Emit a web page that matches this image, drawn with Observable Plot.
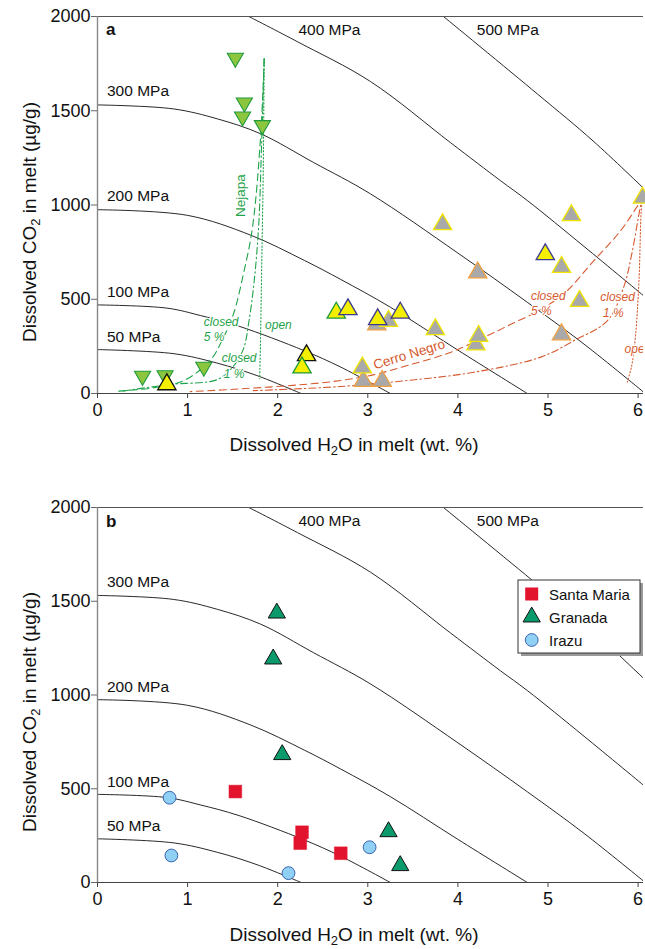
<!DOCTYPE html>
<html><head><meta charset="utf-8">
<script src="https://cdn.jsdelivr.net/npm/d3@7"></script>
<script src="https://cdn.jsdelivr.net/npm/@observablehq/plot@0.6"></script>
<style>
body{margin:0;background:#fff;font-family:"Liberation Sans",Arial,Helvetica,sans-serif;}
#wrap{position:relative;width:645px;height:949px;overflow:hidden;}
#wrap svg{display:block;}
</style></head><body><div id="wrap"></div>
<script>
// ---------- axes ----------
const xTicks = [0, 1, 2, 3, 4, 5, 6];
const yTicks = [0, 500, 1000, 1500, 2000];

// ---------- isobars (H2O wt.%, CO2 µg/g) ----------
const iso50  = [[0,233],[0.85,211],[1.33,161],[1.77,95],[2.26,0]];
const iso100 = [[0,470],[0.77,453],[1.14,414],[1.57,357],[2.29,228],[2.70,140],[3.25,0]];
const iso200 = [[0,975],[1.0,945],[1.7,840],[2.3,705],[2.7,605],[3.25,458],[4.0,230],[4.77,0]];
const iso300 = [[0,1531],[0.84,1510],[1.33,1457],[1.81,1378],[2.4,1225],[3.03,1059],[4.0,745],[4.77,484],[5.4,262],[6.08,0]];
const iso400 = [[1.68,2000],[2.22,1866],[3.03,1655],[3.92,1330],[4.47,1130],[4.77,1024],[5.4,780],[6.08,511]];
const iso500 = [[3.84,2000],[4.88,1590],[5.5,1340],[6.08,1080]];
const isoNames = ["50 MPa","100 MPa","200 MPa","300 MPa","400 MPa","500 MPa"];
const isoLabelX = [0.105,0.105,0.105,0.105,2.23,4.21];
const isoLabelY = [299,537,1045,1604,1929,1929];

// ---------- degassing paths ----------
const nejOpen    = [[1.85,1776],[1.84,1200],[1.82,600],[1.81,300],[1.80,78]];
const nejClosed1 = [[1.85,1776],[1.82,1300],[1.79,900],[1.74,600],[1.68,380],[1.62,237],[1.5,140],[1.33,74],[0.81,48],[0.26,12]];
const nejClosed5 = [[1.85,1776],[1.81,1360],[1.72,880],[1.62,635],[1.51,423],[1.40,299],[1.25,175],[0.96,69],[0.66,33],[0.22,12]];
const cnOpen     = [[6.06,1050],[6.04,1000],[6.01,600],[5.97,299],[5.93,150],[5.88,60]];
const cnClosed1  = [[6.06,1050],[6.03,1000],[5.93,741],[5.84,564],[5.66,387],[5.29,281],[4.92,193],[4.18,113],[3.44,69],[2.70,37],[1.73,15]];
const cnClosed5  = [[6.06,1050],[6.0,1000],[5.8,860],[5.5,700],[5.2,540],[4.9,440],[4.6,370],[4.3,300],[3.9,215],[3.45,150],[3.07,100],[2.70,69],[2.29,48],[1.6,25],[1.03,10]];

const nejText = ["closed","5 %","closed","1 %","open"];
const nejTextX = [1.18,1.18,1.38,1.40,1.86];
const nejTextY = [378,299,187,104,361];
const cnText = ["closed","5 %","closed","1 %","open"];
const cnTextX = [4.81,4.81,5.58,5.61,5.85];
const cnTextY = [515,435,511,428,237];
const nameText = ["Nejapa","Cerro Negro"];
const nameX = [1.59,3.46];
const nameY = [1050,207];
const nameRot = [-90,-17];

// ---------- panel a: melt inclusions ----------
const nejapaMI     = [[1.53,1780],[1.63,1543],[1.61,1469],[1.83,1423],[0.50,93],[0.75,96],[1.18,141]];
const greyOrange   = [[3.10,366],[2.95,66],[3.16,66],[4.22,641],[5.15,313]];
const greyYellow   = [[3.23,384],[2.94,137],[3.75,340],[3.83,897],[4.20,260],[4.23,305],[5.26,945],[5.15,671],[5.35,490],[6.05,1038]];
const yellowBlack  = [[0.77,48],[2.32,202]];
const yellowGreen  = [[2.27,137],[2.65,428]];
const yellowBlue   = [[2.78,446],[3.11,393],[3.36,428],[4.97,738]];

// ---------- panel b ----------
const santaMaria = [[1.53,485],[2.27,268],[2.25,210],[2.70,156]];
const granada    = [[1.99,1437],[1.95,1192],[2.05,682],[3.23,271],[3.36,90]];
const irazu      = [[0.80,452],[0.82,144],[2.12,50],[3.02,188]];
const legendNames = ["Santa Maria","Granada","Irazu"];

// ---------- helpers ----------
const FONT = '"Liberation Sans", Arial, Helvetica, sans-serif';
const GREEN = "#1fa34a", RED = "#d65a2e";
const rows = (pts, k) => pts.map(([h, c]) => ({h, c, k}));
const isoRows = [iso50, iso100, iso200, iso300, iso400, iso500].flatMap((p, i) => rows(p, isoNames[i]));
const isoLabelRows = isoNames.map((t, i) => ({t, x: isoLabelX[i], y: isoLabelY[i]}));
const textRows = (T, X, Y) => T.map((t, i) => ({t, x: X[i], y: Y[i]}));
const triDown = {draw(ctx, size) {
  const y = -Math.sqrt(size / (Math.sqrt(3) * 3));
  ctx.moveTo(0, -y * 2); ctx.lineTo(-Math.sqrt(3) * y, y); ctx.lineTo(Math.sqrt(3) * y, y); ctx.closePath();
}};
const fmt = (d) => String(d);

function common() {
  return [
    Plot.line(isoRows, {x: "h", y: "c", z: "k", curve: "catmull-rom", stroke: "#111", strokeWidth: 0.9, clip: true}),
    Plot.text(isoLabelRows, {x: "x", y: "y", text: "t", textAnchor: "start", fontSize: 15.5, fill: "#111", fontFamily: FONT}),
    Plot.ruleY([2000], {stroke: "#555"}),
    Plot.ruleX([0], {stroke: "#888", strokeWidth: 1.4}),
    Plot.ruleY([0], {stroke: "#444", strokeWidth: 1.2}),
    Plot.axisX({ticks: xTicks, tickFormat: fmt, tickSize: 5, tickPadding: 5, fontSize: 18, label: null, stroke: "#444", fontFamily: FONT}),
    Plot.axisY({ticks: yTicks, tickFormat: fmt, tickSize: 6, tickPadding: 1, fontSize: 18, label: null, stroke: "#666", fontFamily: FONT})
  ];
}
function pathLine(pts, stroke, dash) {
  return Plot.line(rows(pts, "p"), {x: "h", y: "c", curve: "catmull-rom", stroke, strokeWidth: 1.1, strokeDasharray: dash, clip: true});
}
function tri(pts, fill, stroke) {
  return Plot.dot(rows(pts, "t"), {x: "h", y: "c", symbol: "triangle", r: 6.8, fill, stroke, strokeWidth: 1.3});
}

function decorate(svg, letter, yLabelCenter, xBaseline) {
  const s = d3.select(svg);
  s.append("text").attr("x", 106).attr("y", letter === "a" ? 35 : 57).attr("text-anchor", "start")
    .attr("font-family", FONT).attr("font-weight", "bold").attr("font-size", 17).attr("fill", "#111").text(letter);
  const yl = s.append("text").attr("transform", `translate(36,${yLabelCenter}) rotate(-90)`)
    .attr("text-anchor", "middle").attr("font-family", FONT).attr("font-size", 19).attr("fill", "#111");
  yl.append("tspan").text("Dissolved CO");
  yl.append("tspan").attr("dy", 4).attr("font-size", 13).text("2");
  yl.append("tspan").attr("dy", -4).text(" in melt (\u00b5g/g)");
  const xl = s.append("text").attr("x", 354).attr("y", xBaseline)
    .attr("text-anchor", "middle").attr("font-family", FONT).attr("font-size", 19).attr("fill", "#111");
  xl.append("tspan").text("Dissolved H");
  xl.append("tspan").attr("dy", 3.5).attr("font-size", 13).text("2");
  xl.append("tspan").attr("dy", -3.5).text("O in melt (wt. %)");
}

const xScale = {domain: [0, 6.06]};
const yScale = {domain: [0, 2000]};

// ---------- panel a ----------
const plotA = Plot.plot({
  width: 645, height: 470, marginLeft: 97, marginRight: 2, marginTop: 16, marginBottom: 77,
  x: xScale, y: yScale,
  style: {background: "white", color: "#111", fontFamily: FONT, overflow: "visible"},
  marks: [
    ...common(),
    pathLine(nejOpen, GREEN, "1.2,2.2"),
    pathLine(nejClosed1, GREEN, "7,3,1.5,3"),
    pathLine(nejClosed5, GREEN, "7,4.5"),
    pathLine(cnOpen, RED, "1.2,2.2"),
    pathLine(cnClosed1, RED, "7,3,1.5,3"),
    pathLine(cnClosed5, RED, "7,4.5"),
    Plot.text(textRows(nejText, nejTextX, nejTextY), {x: "x", y: "y", text: "t", textAnchor: "start", fontSize: 12, fontStyle: "italic", fill: GREEN, stroke: "white", strokeWidth: 2.5, fontFamily: FONT}),
    Plot.text(textRows(cnText, cnTextX, cnTextY), {x: "x", y: "y", text: "t", textAnchor: "start", fontSize: 12, fontStyle: "italic", fill: RED, stroke: "white", strokeWidth: 2.5, fontFamily: FONT, clip: true}),
    Plot.text(nameText.map((t, i) => ({t, x: nameX[i], y: nameY[i], r: nameRot[i], c: i ? RED : GREEN})),
      {x: "x", y: "y", text: "t", rotate: "r", fill: (d) => d.c, fontSize: 13.5, fontFamily: FONT, stroke: "white", strokeWidth: 2}),
    Plot.dot(rows(nejapaMI, "n"), {x: "h", y: "c", symbol: triDown, r: 6.0, fill: "#8cc63f", stroke: "#1f9a3c", strokeWidth: 1.1}),
    tri(greyOrange, "#a9a9a9", "#f0a040"),
    tri(greyYellow, "#a9a9a9", "#f0e400"),
    tri(yellowBlack, "#f4ef00", "#111"),
    tri(yellowGreen, "#f4ef00", "#1a9a3a"),
    tri(yellowBlue, "#f4ef00", "#3a3a90")
  ]
});

// ---------- panel b ----------
const plotB = Plot.plot({
  width: 645, height: 479, marginLeft: 97, marginRight: 2, marginTop: 37, marginBottom: 67,
  x: xScale, y: yScale,
  style: {background: "white", color: "#111", fontFamily: FONT, overflow: "visible"},
  marks: [
    ...common(),
    Plot.dot(rows(santaMaria, "s"), {x: "h", y: "c", symbol: "square", r: 7.2, fill: "#e2142d", stroke: "#e2142d", strokeWidth: 0.5}),
    Plot.dot(rows(granada, "g"), {x: "h", y: "c", symbol: "triangle", r: 6.4, fill: "#0b9a6c", stroke: "#111", strokeWidth: 1}),
    Plot.dot(rows(irazu, "i"), {x: "h", y: "c", symbol: "circle", r: 6.4, fill: "#8fd0f4", stroke: "#3a66b0", strokeWidth: 1})
  ]
});

const wrap = document.getElementById("wrap");
wrap.appendChild(plotA);
wrap.appendChild(plotB);
decorate(plotA, "a", 222, 451);
decorate(plotB, "b", 242, 471);

// legend (panel b)
const sb = d3.select(plotB);
const lg = sb.append("g").attr("transform", "translate(518,110)");
lg.append("rect").attr("x", 3).attr("y", 3).attr("width", 122).attr("height", 73).attr("fill", "#999");
lg.append("rect").attr("width", 122).attr("height", 73).attr("fill", "white").attr("stroke", "#333").attr("stroke-width", 1);
const sw = [
  (g) => g.append("rect").attr("x", -6.5).attr("y", -6.5).attr("width", 13).attr("height", 13).attr("fill", "#e2142d"),
  (g) => g.append("path").attr("d", d3.symbol(d3.symbolTriangle, 6.4 * 6.4 * Math.PI)()).attr("fill", "#0b9a6c").attr("stroke", "#111"),
  (g) => g.append("circle").attr("r", 6.4).attr("fill", "#8fd0f4").attr("stroke", "#3a66b0")
];
legendNames.forEach((n, i) => {
  const g = lg.append("g").attr("transform", `translate(13.7,${14 + i * 23})`);
  sw[i](g);
  lg.append("text").attr("x", 31).attr("y", 14 + i * 23 + 5.5).attr("text-anchor", "start")
    .attr("font-family", FONT).attr("font-size", 15).attr("fill", "#111").text(n);
});
</script></body></html>
